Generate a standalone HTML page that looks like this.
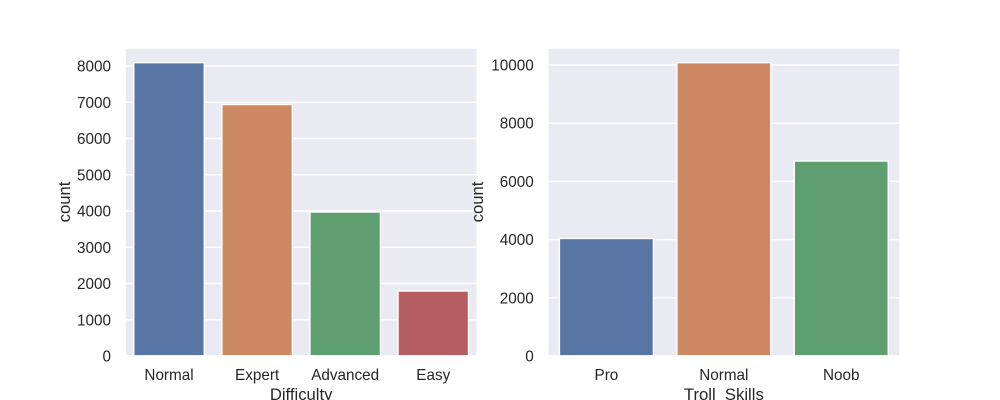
<!DOCTYPE html>
<html>
<head>
<meta charset="utf-8">
<style>
html,body{margin:0;padding:0;background:#fff;}
svg{display:block;}
text{font-family:"Liberation Sans",Arial,sans-serif;fill:#262626;}
</style>
</head>
<body>
<svg id="figure" xmlns="http://www.w3.org/2000/svg" width="1000" height="400" viewBox="0 0 1000 400"></svg>
<script>
var difficultyCategories = ['Normal', 'Expert', 'Advanced', 'Easy'];
var difficultyCounts = [8092, 6938, 3972, 1793];
var difficultyTicks = [0, 1000, 2000, 3000, 4000, 5000, 6000, 7000, 8000];
var trollCategories = ['Pro', 'Normal', 'Noob'];
var trollCounts = [4038, 10080, 6700];
var trollTicks = [0, 2000, 4000, 6000, 8000, 10000];
var barColors = ['#5975a4', '#cc8963', '#5f9e6e', '#b55d60'];

var svg = document.getElementById('figure');
var NS = 'http://www.w3.org/2000/svg';

function make(tag, attrs, parent) {
  var el = document.createElementNS(NS, tag);
  for (var k in attrs) { el.setAttribute(k, attrs[k]); }
  parent.appendChild(el);
  return el;
}

function drawChart(key, box, categories, counts, ticks, xTitle, yTitleX) {
  var top = 48, bottom = 356;
  var ymax = Math.max.apply(null, counts) * 1.05;
  function yScale(v) { return bottom - (v / ymax) * (bottom - top); }
  var band = (box.right - box.left) / categories.length;
  function xScale(i) { return box.left + band * (i + 0.5); }

  var g = make('g', {}, svg);
  
  

  var bg = make('rect', {x: box.left, y: top, width: box.right - box.left, height: bottom - top, fill: '#eaeaf2'}, g);
  
  

  ticks.forEach(function (t) {
    var y = yScale(t);
    var line = make('line', {x1: box.left, x2: box.right, y1: y, y2: y, stroke: '#ffffff', 'stroke-width': 1.39}, g);
    
    
    var label = make('text', {x: box.left - 14, y: y + 5.5, 'text-anchor': 'end', 'font-size': 15.28}, g);
    label.textContent = String(t);
    
    
  });

  categories.forEach(function (c, i) {
    var w = band * 0.8;
    var y = yScale(counts[i]);
    var bar = make('rect', {x: xScale(i) - w / 2, y: y, width: w, height: bottom - y, fill: barColors[i], stroke: '#ffffff', 'stroke-width': 1.39}, g);
    
    
    var label = make('text', {x: xScale(i), y: 380, 'text-anchor': 'middle', 'font-size': 15.28}, g);
    label.textContent = c;
    
    
  });

  var frame = make('rect', {x: box.left, y: top, width: box.right - box.left, height: bottom - top, fill: 'none', stroke: '#ffffff', 'stroke-width': 1.74}, g);
  
  

  var xt = make('text', {x: (box.left + box.right) / 2, y: 400, 'text-anchor': 'middle', 'font-size': 16.67}, g);
  xt.textContent = xTitle;
  
  

  var yt = make('text', {x: 0, y: 0, 'text-anchor': 'middle', 'font-size': 16.67, transform: 'translate(' + yTitleX + ',202) rotate(-90)'}, g);
  yt.textContent = 'count';
  
  
}

drawChart('difficulty', {left: 125, right: 477.3}, difficultyCategories, difficultyCounts, difficultyTicks, 'Difficulty', 70);
drawChart('troll-skills', {left: 547.7, right: 900}, trollCategories, trollCounts, trollTicks, 'Troll_Skills', 483);
</script>
</body>
</html>
